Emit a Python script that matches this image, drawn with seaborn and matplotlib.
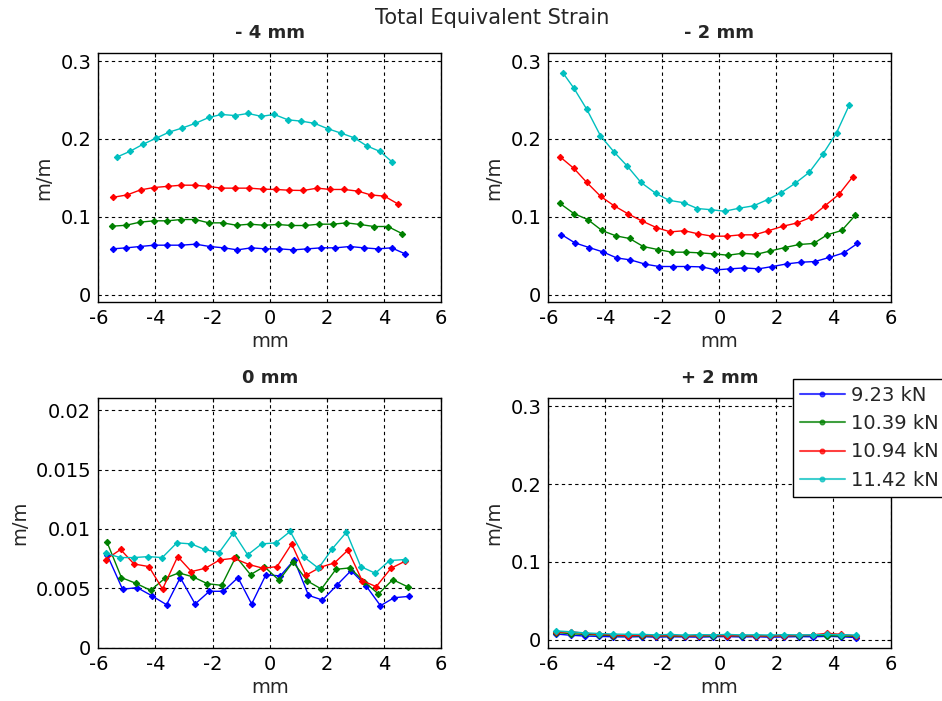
import matplotlib
matplotlib.use("Agg")
import matplotlib.pyplot as plt
import pandas as pd
import seaborn as sns

sns.set_style("white")
plt.rcParams["font.family"] = ["DejaVu Sans"]

loads = ["9.23 kN", "10.39 kN", "10.94 kN", "11.42 kN"]
colors = ["#0000ff", "#008000", "#ff0000", "#00bfbf"]
panel_titles = ["- 4 mm", "- 2 mm", "0 mm", "+ 2 mm"]
x_ticks = [-6, -4, -2, 0, 2, 4, 6]
y_ticks_big = [0, 0.1, 0.2, 0.3]
y_labels_big = ["0", "0.1", "0.2", "0.3"]
y_ticks_small = [0, 0.005, 0.01, 0.015, 0.02]
y_labels_small = ["0", "0.005", "0.01", "0.015", "0.02"]

# ---- panel "- 4 mm"
m4_x_923 = [-5.50, -5.02, -4.54, -4.05, -3.58, -3.10, -2.59, -2.10, -1.61, -1.13, -0.64, -0.16, 0.34, 0.83, 1.32, 1.81, 2.30, 2.81, 3.29, 3.78, 4.27, 4.74]
m4_y_923 = [0.0587, 0.0600, 0.0617, 0.0634, 0.0634, 0.0634, 0.0647, 0.0617, 0.0600, 0.0574, 0.0600, 0.0587, 0.0587, 0.0574, 0.0587, 0.0600, 0.0600, 0.0617, 0.0600, 0.0587, 0.0600, 0.0523]
m4_x_1039 = [-5.52, -5.03, -4.54, -4.05, -3.58, -3.10, -2.61, -2.13, -1.64, -1.16, -0.69, -0.20, 0.28, 0.76, 1.25, 1.73, 2.22, 2.68, 3.17, 3.65, 4.14, 4.63]
m4_y_1039 = [0.0878, 0.0890, 0.0930, 0.0947, 0.0947, 0.0964, 0.0964, 0.0921, 0.0921, 0.0890, 0.0904, 0.0890, 0.0900, 0.0887, 0.0887, 0.0904, 0.0904, 0.0921, 0.0900, 0.0874, 0.0874, 0.0784]
m4_x_1094 = [-5.48, -4.99, -4.52, -4.05, -3.57, -3.10, -2.63, -2.17, -1.69, -1.20, -0.71, -0.23, 0.23, 0.69, 1.18, 1.66, 2.13, 2.61, 3.10, 3.54, 4.02, 4.51]
m4_y_1094 = [0.1250, 0.1280, 0.1345, 0.1375, 0.1390, 0.1405, 0.1405, 0.1390, 0.1367, 0.1367, 0.1367, 0.1354, 0.1350, 0.1340, 0.1337, 0.1367, 0.1350, 0.1350, 0.1328, 0.1280, 0.1264, 0.1160]
m4_x_1142 = [-5.36, -4.89, -4.44, -3.97, -3.52, -3.06, -2.60, -2.13, -1.69, -1.21, -0.76, -0.29, 0.16, 0.64, 1.11, 1.57, 2.04, 2.50, 2.96, 3.40, 3.87, 4.30]
m4_y_1142 = [0.1765, 0.1840, 0.1930, 0.2010, 0.2087, 0.2140, 0.2200, 0.2275, 0.2314, 0.2300, 0.2327, 0.2290, 0.2314, 0.2245, 0.2228, 0.2200, 0.2130, 0.2074, 0.2014, 0.1910, 0.1838, 0.1700]

# ---- panel "- 2 mm"
m2_x_923 = [-5.54, -5.07, -4.57, -4.09, -3.60, -3.12, -2.60, -2.12, -1.62, -1.12, -0.61, -0.13, 0.36, 0.87, 1.37, 1.86, 2.37, 2.86, 3.35, 3.85, 4.36, 4.84]
m2_y_923 = [0.0771, 0.0664, 0.0604, 0.0548, 0.0470, 0.0445, 0.0390, 0.0360, 0.0360, 0.0360, 0.0355, 0.0316, 0.0330, 0.0342, 0.0330, 0.0360, 0.0394, 0.0415, 0.0424, 0.0476, 0.0535, 0.0656]
m2_x_1039 = [-5.59, -5.10, -4.62, -4.12, -3.63, -3.15, -2.67, -2.16, -1.66, -1.17, -0.67, -0.18, 0.30, 0.81, 1.31, 1.79, 2.30, 2.80, 3.30, 3.78, 4.29, 4.76]
m2_y_1039 = [0.1170, 0.1040, 0.0964, 0.0823, 0.0754, 0.0720, 0.0617, 0.0578, 0.0544, 0.0544, 0.0535, 0.0522, 0.0505, 0.0530, 0.0518, 0.0560, 0.0604, 0.0643, 0.0656, 0.0767, 0.0823, 0.1016]
m2_x_1094 = [-5.59, -5.10, -4.65, -4.16, -3.69, -3.20, -2.72, -2.21, -1.72, -1.23, -0.75, -0.25, 0.26, 0.75, 1.24, 1.72, 2.23, 2.73, 3.22, 3.70, 4.19, 4.67]
m2_y_1094 = [0.1770, 0.1620, 0.1440, 0.1260, 0.1140, 0.1036, 0.0946, 0.0860, 0.0805, 0.0820, 0.0780, 0.0750, 0.0750, 0.0767, 0.0767, 0.0820, 0.0878, 0.0920, 0.0994, 0.1140, 0.1286, 0.1510]
m2_x_1142 = [-5.49, -5.10, -4.65, -4.17, -3.69, -3.23, -2.75, -2.23, -1.76, -1.25, -0.77, -0.29, 0.18, 0.70, 1.20, 1.69, 2.17, 2.66, 3.15, 3.64, 4.11, 4.56]
m2_y_1142 = [0.2850, 0.2650, 0.2380, 0.2040, 0.1830, 0.1650, 0.1440, 0.1300, 0.1210, 0.1180, 0.1105, 0.1090, 0.1070, 0.1110, 0.1140, 0.1220, 0.1310, 0.1430, 0.1570, 0.1810, 0.2080, 0.2440]

# ---- panel "0 mm"
z0_x_923 = [-5.69, -5.15, -4.64, -4.13, -3.61, -3.13, -2.61, -2.11, -1.62, -1.11, -0.63, -0.13, 0.37, 0.86, 1.36, 1.85, 2.36, 2.85, 3.37, 3.88, 4.36, 4.88]
z0_y_923 = [0.00782, 0.00492, 0.00506, 0.00438, 0.00362, 0.00590, 0.00368, 0.00475, 0.00475, 0.00590, 0.00368, 0.00615, 0.00604, 0.00739, 0.00441, 0.00401, 0.00528, 0.00649, 0.00523, 0.00354, 0.00421, 0.00432]
z0_x_1039 = [-5.69, -5.19, -4.68, -4.17, -3.67, -3.18, -2.68, -2.18, -1.68, -1.18, -0.67, -0.19, 0.33, 0.82, 1.32, 1.81, 2.32, 2.81, 3.31, 3.81, 4.31, 4.85]
z0_y_1039 = [0.00886, 0.00590, 0.00542, 0.00483, 0.00584, 0.00630, 0.00596, 0.00539, 0.00525, 0.00767, 0.00615, 0.00683, 0.00568, 0.00722, 0.00562, 0.00494, 0.00660, 0.00672, 0.00556, 0.00452, 0.00573, 0.00511]
z0_x_1094 = [-5.74, -5.22, -4.75, -4.23, -3.75, -3.22, -2.74, -2.25, -1.75, -1.25, -0.72, -0.23, 0.26, 0.77, 1.27, 1.77, 2.27, 2.74, 3.24, 3.73, 4.25, 4.74]
z0_y_1094 = [0.00742, 0.00827, 0.00705, 0.00683, 0.00494, 0.00767, 0.00641, 0.00669, 0.00739, 0.00753, 0.00700, 0.00669, 0.00683, 0.00874, 0.00610, 0.00677, 0.00714, 0.00821, 0.00565, 0.00514, 0.00669, 0.00728]
z0_x_1142 = [-5.74, -5.24, -4.75, -4.25, -3.76, -3.25, -2.75, -2.27, -1.77, -1.27, -0.77, -0.28, 0.22, 0.72, 1.21, 1.71, 2.20, 2.69, 3.19, 3.70, 4.20, 4.73]
z0_y_1142 = [0.00796, 0.00759, 0.00759, 0.00767, 0.00759, 0.00883, 0.00874, 0.00827, 0.00801, 0.00967, 0.00782, 0.00874, 0.00883, 0.00979, 0.00762, 0.00669, 0.00835, 0.00973, 0.00683, 0.00627, 0.00734, 0.00742]

# ---- panel "+ 2 mm"
p2_x = [-5.72, -5.22, -4.72, -4.22, -3.72, -3.22, -2.72, -2.22, -1.72, -1.22, -0.72, -0.22, 0.28, 0.78, 1.28, 1.78, 2.28, 2.78, 3.28, 3.78, 4.28, 4.80]
p2_y_923 = [0.0075, 0.0060, 0.0050, 0.0045, 0.0040, 0.0038, 0.0042, 0.0035, 0.0040, 0.0038, 0.0036, 0.0040, 0.0042, 0.0038, 0.0040, 0.0035, 0.0038, 0.0042, 0.0040, 0.0045, 0.0040, 0.0030]
p2_y_1039 = [0.0095, 0.0080, 0.0070, 0.0062, 0.0055, 0.0050, 0.0052, 0.0048, 0.0050, 0.0046, 0.0052, 0.0048, 0.0055, 0.0050, 0.0052, 0.0048, 0.0055, 0.0050, 0.0058, 0.0055, 0.0050, 0.0045]
p2_y_1094 = [0.0100, 0.0105, 0.0085, 0.0070, 0.0065, 0.0055, 0.0060, 0.0052, 0.0058, 0.0050, 0.0055, 0.0060, 0.0052, 0.0058, 0.0050, 0.0055, 0.0052, 0.0060, 0.0065, 0.0085, 0.0070, 0.0050]
p2_y_1142 = [0.0115, 0.0105, 0.0090, 0.0082, 0.0075, 0.0072, 0.0070, 0.0065, 0.0070, 0.0062, 0.0068, 0.0065, 0.0070, 0.0064, 0.0066, 0.0062, 0.0068, 0.0064, 0.0066, 0.0070, 0.0068, 0.0062]

panels = [
    ([m4_x_923, m4_x_1039, m4_x_1094, m4_x_1142], [m4_y_923, m4_y_1039, m4_y_1094, m4_y_1142]),
    ([m2_x_923, m2_x_1039, m2_x_1094, m2_x_1142], [m2_y_923, m2_y_1039, m2_y_1094, m2_y_1142]),
    ([z0_x_923, z0_x_1039, z0_x_1094, z0_x_1142], [z0_y_923, z0_y_1039, z0_y_1094, z0_y_1142]),
    ([p2_x, p2_x, p2_x, p2_x], [p2_y_923, p2_y_1039, p2_y_1094, p2_y_1142]),
]

fig = plt.figure(figsize=(9.42, 7.01), dpi=100)
W, H = 942.0, 701.0
boxes = [
    (98.3, 53.3, 441.0, 302.3),
    (548.3, 53.3, 890.5, 302.3),
    (98.3, 398.3, 441.0, 647.7),
    (548.3, 398.3, 890.5, 647.7),
]

for i, ((xs, ys), (l, t, r, b)) in enumerate(zip(panels, boxes)):
    ax = fig.add_axes([l / W, 1 - b / H, (r - l) / W, (b - t) / H])
    frames = []
    for lab, xx, yy in zip(loads, xs, ys):
        frames.append(pd.DataFrame({"x": xx, "y": yy, "Load": lab}))
    df = pd.concat(frames, ignore_index=True)
    sns.lineplot(data=df, x="x", y="y", hue="Load", hue_order=loads,
                 palette=colors, marker="D", markersize=3.2,
                 linewidth=1.0, estimator=None, sort=False, errorbar=None,
                 legend=(i == 3), ax=ax)
    for ln in ax.get_lines():
        ln.set_markeredgecolor(ln.get_color())
        ln.set_markerfacecolor(ln.get_color())
        ln.set_markeredgewidth(0.8)
    ax.set_xlim(-6, 6)
    ax.set_xticks(x_ticks)
    ax.set_xticklabels([str(v) for v in x_ticks])
    if i == 2:
        ax.set_ylim(0, 0.021)
        ax.set_yticks(y_ticks_small)
        ax.set_yticklabels(y_labels_small)
    else:
        ax.set_ylim(-0.01, 0.31)
        ax.set_yticks(y_ticks_big)
        ax.set_yticklabels(y_labels_big)
    ax.grid(True, color="black", linestyle=(0, (3, 3)), linewidth=0.8)
    ax.set_axisbelow(True)
    for s in ax.spines.values():
        s.set_visible(True)
        s.set_color("black")
        s.set_linewidth(1.0)
    ax.tick_params(direction="in", length=3, width=0.8, top=True, right=True,
                   labelsize=14, pad=5, colors="black")
    ax.set_xlabel("mm", fontsize=14, labelpad=3)
    ax.set_ylabel("m/m", fontsize=14, labelpad=5)
    ax.set_title(panel_titles[i], fontsize=13, fontweight="bold", pad=11)
    if i == 3:
        handles, labels = ax.get_legend_handles_labels()
        ax.get_legend().remove()
        leg = ax.legend(handles, labels, loc="upper left",
                        bbox_to_anchor=(793.3 / W, 1 - 379.0 / H),
                        bbox_transform=fig.transFigure, fontsize=14,
                        frameon=True, fancybox=False, framealpha=1,
                        edgecolor="black", handlelength=2.3, handletextpad=0.3,
                        borderpad=0.35, labelspacing=0.48, borderaxespad=0)
        leg.get_frame().set_linewidth(1.0)
        for lh in leg.get_lines():
            lh.set_markersize(3.5)
            lh.set_marker("o")
            lh.set_linewidth(1.5)
            lh.set_alpha(0.75)

fig.text(0.522, 1 - 18.0 / H, "Total Equivalent Strain", ha="center", va="center",
         fontsize=15)

fig.savefig("out.png", dpi=100)
